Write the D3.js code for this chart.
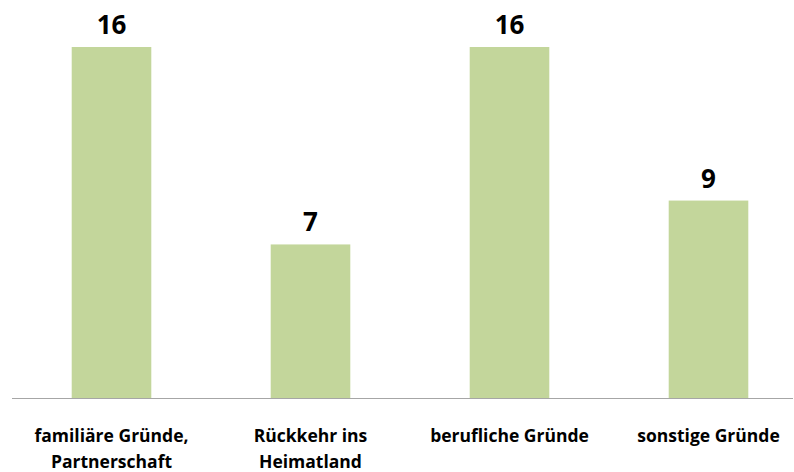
<!DOCTYPE html>
<html><head><meta charset="utf-8">
<script src="https://cdn.jsdelivr.net/npm/d3@7"></script>
<style>body{margin:0;background:#fff}</style>
</head><body>
<svg id="c" width="794" height="472"></svg>
<script>
const categories = [["familiäre Gründe,", "Partnerschaft"], ["Rückkehr ins", "Heimatland"], ["berufliche Gründe"], ["sonstige Gründe"]];
const values = [16, 7, 16, 9];

const svg = d3.select("#c");
const left = 12, right = 793, baseY = 398, topY = 47;
const x = d3.scaleBand().domain(d3.range(values.length)).range([12, 808]).paddingInner(0.6).paddingOuter(0.3);
const y = d3.scaleLinear().domain([0, 16]).range([baseY, topY]);

svg.selectAll("rect.bar").data(values).join("rect")
  .attr("class", "bar")
  .attr("x", (d, i) => x(i)).attr("width", x.bandwidth())
  .attr("y", d => y(d)).attr("height", d => baseY - y(d))
  .attr("fill", "#C3D69B");

svg.append("line").attr("x1", left).attr("x2", right).attr("y1", baseY + 0.5).attr("y2", baseY + 0.5)
  .attr("stroke", "#A6A6A6").attr("stroke-width", 1);

svg.selectAll("text.val").data(values).join("text")
  .attr("class", "val")
  .attr("x", (d, i) => x(i) + x.bandwidth() / 2).attr("y", d => y(d) - 13)
  .attr("text-anchor", "middle")
  .attr("font-family", "Open Sans, sans-serif").attr("font-weight", "bold").attr("font-size", 26)
  .attr("fill", "#000").text(d => d);

const lab = svg.selectAll("text.cat").data(categories).join("text")
  .attr("class", "cat")
  .attr("text-anchor", "middle")
  .attr("font-family", "Open Sans, sans-serif").attr("font-weight", "bold").attr("font-size", 17.5)
  .attr("fill", "#000");
lab.selectAll("tspan").data((d, i) => d.map(t => ({t, i}))).join("tspan")
  .attr("x", d => x(d.i) + x.bandwidth() / 2)
  .attr("y", (d, j) => 442 + j * 26)
  .text(d => d.t);
</script>
</body></html>
